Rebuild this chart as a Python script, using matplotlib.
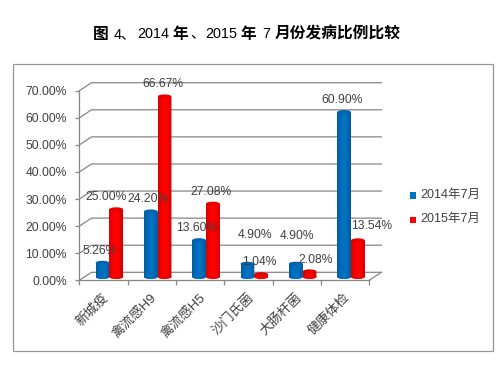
import matplotlib
matplotlib.use("Agg")
import matplotlib.pyplot as plt
import numpy as np
from matplotlib.colors import LinearSegmentedColormap
from matplotlib.patches import Ellipse, PathPatch, Rectangle
from matplotlib.path import Path

plt.rcParams["font.family"] = ["Liberation Sans", "Noto Sans CJK SC"]

W, H = 503, 366

categories = ["新城疫", "禽流感H9", "禽流感H5", "沙门氏菌", "大肠杆菌", "健康体检"]
series_2014 = [5.26, 24.20, 13.60, 4.90, 4.90, 60.90]
series_2015 = [25.00, 66.67, 27.08, 1.04, 2.08, 13.54]
y_ticks = [0, 10, 20, 30, 40, 50, 60, 70]
legend_labels = ["2014年7月", "2015年7月"]

# label centres in pixels, picked by hand so they overlap like the original
pos_2014 = [(100, 251), (148, 199), (197, 228), (255, 235), (297, 236), (342, 100)]
pos_2015 = [(106, 197), (163, 84), (211, 192), (259, 262), (316, 260), (372, 226)]

TEXT = "#404040"
GRID = "#868686"
DEPTH_X, DEPTH_Y = 0.25, 2.95   # depth of the fake 3D box, in data units
BASE = 1.2                      # bars stand in the middle of the floor
BAR_W = 0.285
CAP_H = 1.5

blue_cmap = LinearSegmentedColormap.from_list("b", ["#005c9e", "#0070c0", "#0070c0", "#005a9a"])
red_cmap = LinearSegmentedColormap.from_list("r", ["#d80000", "#ff0000", "#ff0000", "#cc0000"])


def px(x, y):
    return x / W, 1 - y / H


def cylinder(ax, x, value, cmap, cap):
    # plain bar underneath, shaded image on top clipped to the cylinder outline
    bars = ax.bar(x, value, BAR_W, bottom=BASE, color=cmap(0.5), linewidth=0, zorder=3)
    top = BASE + value
    body = Path.make_compound_path(
        bars[0].get_path().transformed(bars[0].get_patch_transform()),
        Path.unit_circle().transformed(
            matplotlib.transforms.Affine2D().scale(BAR_W / 2, CAP_H / 2).translate(x, BASE)
        ),
    )
    clip = PathPatch(body, transform=ax.transData, facecolor="none", edgecolor="none")
    ax.add_patch(clip)
    img = ax.imshow(
        np.linspace(0, 1, 64).reshape(1, -1), cmap=cmap, aspect="auto", zorder=4,
        extent=(x - BAR_W / 2, x + BAR_W / 2, BASE - CAP_H / 2, top),
    )
    img.set_clip_path(clip)
    ax.add_patch(Ellipse((x, top), BAR_W, CAP_H, facecolor=cap, edgecolor="none", zorder=5))


fig = plt.figure(figsize=(W / 100, H / 100), dpi=100)
ax = fig.add_axes([79.4 / W, 1 - 280.3 / H, 289.9 / W, 189.6 / H])
ax.set_xlim(0, 6)
ax.set_ylim(0, 70)
ax.patch.set_visible(False)

for s in ["top", "right"]:
    ax.spines[s].set_visible(False)
for s in ["left", "bottom"]:
    ax.spines[s].set_color(GRID)
    ax.spines[s].set_linewidth(0.9)

# side wall and back wall lines
for v in y_ticks:
    ax.plot([0, DEPTH_X, 6 + DEPTH_X], [v, v + DEPTH_Y, v + DEPTH_Y],
            color=GRID, lw=0.9, clip_on=False, zorder=1)
ax.plot([6, 6 + DEPTH_X], [0, DEPTH_Y], color=GRID, lw=0.9, clip_on=False, zorder=1)

idx = np.arange(len(categories))
centers = idx + 0.62
for c, v14, v15 in zip(centers, series_2014, series_2015):
    cylinder(ax, c - BAR_W / 2, v14, blue_cmap, "#0064ac")
    cylinder(ax, c + BAR_W / 2, v15, red_cmap, "#e60000")

ax.set_xlim(0, 6)
ax.set_ylim(0, 70)

ax.set_yticks(y_ticks)
ax.set_yticklabels([f"{v:.2f}%" for v in y_ticks], fontsize=8.7, color=TEXT)
ax.tick_params(axis="y", length=3, width=0.9, color=GRID, pad=6)
ax.set_xticks(np.arange(7))
ax.set_xticklabels([])
ax.tick_params(axis="x", length=3.5, width=0.9, color=GRID)

for c, name in zip(idx + 0.5, categories):
    ax.annotate(name, xy=(c, 0), xytext=(-1, -8), textcoords="offset points",
                ha="right", va="top", rotation=45, rotation_mode="anchor",
                fontsize=9.5, color=TEXT, annotation_clip=False)

for vals, positions in [(series_2014, pos_2014), (series_2015, pos_2015)]:
    for v, (x, y) in zip(vals, positions):
        fig.text(*px(x, y), f"{v:.2f}%", ha="center", va="center",
                 fontsize=8.7, color=TEXT, zorder=10)

# legend
for label, color, y in zip(legend_labels, ["#0070c0", "#ff0000"], [195.7, 220]):
    fig.add_artist(Rectangle(px(409.5, y + 3.3), 6.6 / W, 6.6 / H, transform=fig.transFigure,
                             facecolor=color, edgecolor="none"))
    fig.text(*px(420, y - 1), label, ha="left", va="center", fontsize=9, color=TEXT)

# outer frame
fig.add_artist(Rectangle(px(13.3, 351), 480 / W, 287 / H, transform=fig.transFigure,
                         facecolor="none", edgecolor="#969696", linewidth=0.9))

# title is mixed weight, so it goes piece by piece
title_parts = [
    ("图", 93, "bold"), ("4、", 114, "normal"), ("2014", 137, "normal"), ("年", 172.5, "bold"),
    ("、", 190, "normal"), ("2015", 205, "normal"), ("年", 240, "bold"), ("7", 262, "normal"),
    ("月份发病比例比较", 274.5, "bold"),
]
for part, x, weight in title_parts:
    size = 11.3 if weight == "bold" else 10.4
    fig.text(*px(x, 34), part, ha="left", va="center", fontsize=size,
             fontweight=weight, color="black")

fig.savefig("out.png", dpi=100)
